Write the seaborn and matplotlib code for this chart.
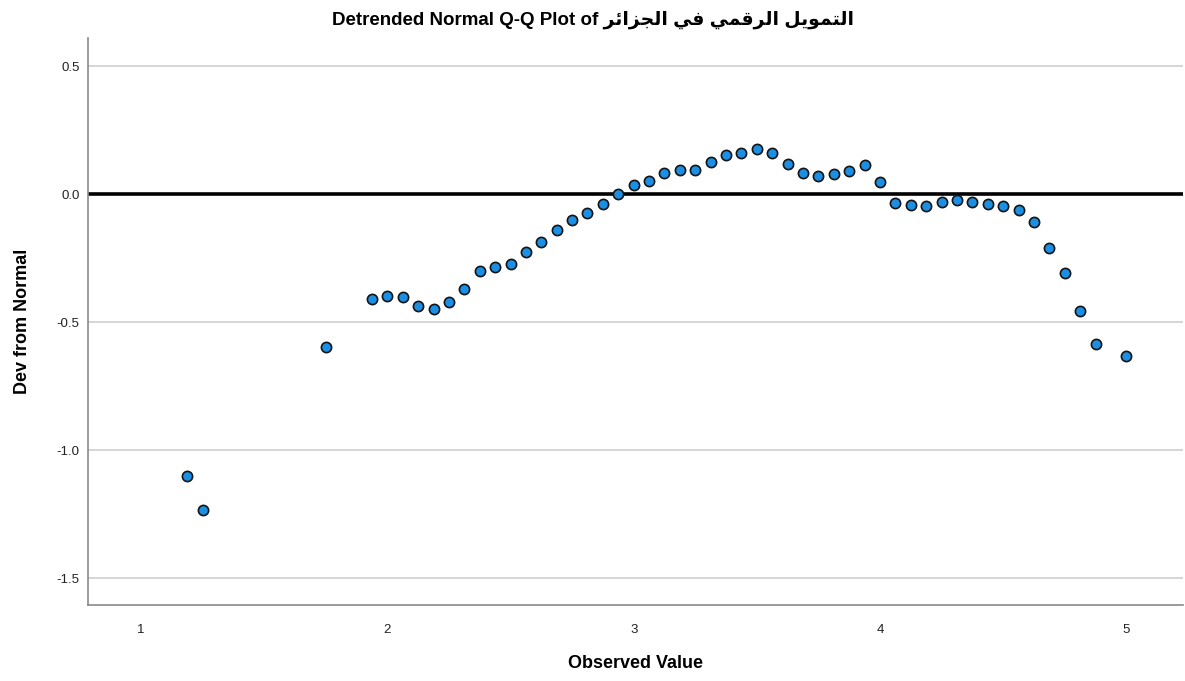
import matplotlib
matplotlib.use("Agg")
import matplotlib.pyplot as plt
import seaborn as sns
import pandas as pd

# Observed values and their deviation from the fitted normal line
observed = [1.1875, 1.25, 1.75,
            1.9375, 2.0, 2.0625, 2.125, 2.1875, 2.25, 2.3125, 2.375, 2.4375, 2.5,
            2.5625, 2.625, 2.6875, 2.75, 2.8125, 2.875, 2.9375, 3.0, 3.0625, 3.125,
            3.1875, 3.25, 3.3125, 3.375, 3.4375, 3.5, 3.5625, 3.625, 3.6875, 3.75,
            3.8125, 3.875, 3.9375, 4.0, 4.0625, 4.125, 4.1875, 4.25, 4.3125, 4.375,
            4.4375, 4.5, 4.5625, 4.625, 4.6875, 4.75, 4.8125, 4.875,
            5.0]
deviation = [-1.100, -1.234, -0.596,
             -0.410, -0.396, -0.402, -0.438, -0.447, -0.420, -0.369, -0.301, -0.285, -0.271,
             -0.225, -0.186, -0.142, -0.102, -0.073, -0.038, 0.002, 0.034, 0.052, 0.083,
             0.096, 0.095, 0.126, 0.151, 0.159, 0.175, 0.161, 0.116, 0.082, 0.071,
             0.077, 0.090, 0.114, 0.048, -0.035, -0.043, -0.047, -0.031, -0.022, -0.031,
             -0.037, -0.048, -0.063, -0.108, -0.211, -0.309, -0.456, -0.586,
             -0.632]
x_ticks = [1, 2, 3, 4, 5]
y_ticks = [0.5, 0.0, -0.5, -1.0, -1.5]
variable_name = "التمويل الرقمي في الجزائر"

# Contextual forms (isolated, final, initial, medial) for the letters used
ARABIC_FORMS = {
    "\u0627": ("\uFE8D", "\uFE8E"),
    "\u0631": ("\uFEAD", "\uFEAE"),
    "\u0632": ("\uFEAF", "\uFEB0"),
    "\u0648": ("\uFEED", "\uFEEE"),
    "\u062A": ("\uFE95", "\uFE96", "\uFE97", "\uFE98"),
    "\u062C": ("\uFE9D", "\uFE9E", "\uFE9F", "\uFEA0"),
    "\u0626": ("\uFE89", "\uFE8A", "\uFE8B", "\uFE8C"),
    "\u0641": ("\uFED1", "\uFED2", "\uFED3", "\uFED4"),
    "\u0642": ("\uFED5", "\uFED6", "\uFED7", "\uFED8"),
    "\u0644": ("\uFEDD", "\uFEDE", "\uFEDF", "\uFEE0"),
    "\u0645": ("\uFEE1", "\uFEE2", "\uFEE3", "\uFEE4"),
    "\u064A": ("\uFEF1", "\uFEF2", "\uFEF3", "\uFEF4"),
}


def shape_arabic(text):
    """Join letters into their contextual forms and lay them out right to left."""
    out = []
    for i, ch in enumerate(text):
        forms = ARABIC_FORMS.get(ch)
        if forms is None:
            out.append(ch)
            continue
        prev = text[i - 1] if i > 0 else ""
        nxt = text[i + 1] if i + 1 < len(text) else ""
        joins_prev = prev in ARABIC_FORMS and len(ARABIC_FORMS[prev]) == 4
        joins_next = len(forms) == 4 and nxt in ARABIC_FORMS
        if joins_prev and joins_next:
            out.append(forms[3])
        elif joins_prev:
            out.append(forms[1])
        elif joins_next:
            out.append(forms[2])
        else:
            out.append(forms[0])
    return "".join(reversed(out))


sns.set_theme(style="white")
plt.rcParams["font.family"] = ["Liberation Sans", "DejaVu Sans"]
plt.rcParams["axes.unicode_minus"] = False

df = pd.DataFrame({"Observed Value": observed, "Dev from Normal": deviation})

fig = plt.figure(figsize=(11.85, 6.81), dpi=100)
ax = fig.add_axes([0.0743, 0.1116, 0.924, 0.8326])

ax.set_xlim(0.785, 5.23)
ax.set_ylim(-1.605, 0.61)
ax.set_yticks(y_ticks)
ax.set_xticks(x_ticks)
ax.set_yticklabels([f"{v:.1f}" for v in y_ticks])
ax.set_xticklabels([str(v) for v in x_ticks])

for v in y_ticks:
    ax.axhline(v, color="#cfcfcf", lw=1.2, zorder=0)
ax.axhline(0.0, color="black", lw=2.6, zorder=1)

sns.scatterplot(data=df, x="Observed Value", y="Dev from Normal", ax=ax,
                s=54, color="#1a8fe3", edgecolor="#141414", linewidth=1.2,
                zorder=3, legend=False)

ax.set_xlabel("")
ax.set_ylabel("")
for side in ("top", "right"):
    ax.spines[side].set_visible(False)
for side in ("left", "bottom"):
    ax.spines[side].set_color("#8a8a8a")
    ax.spines[side].set_linewidth(1.2)

ax.tick_params(axis="both", length=0, labelsize=9.5, colors="#222222")
ax.tick_params(axis="y", pad=6)
ax.tick_params(axis="x", pad=14)

fig.text(0.5, 0.971, "Detrended Normal Q-Q Plot of " + shape_arabic(variable_name),
         ha="center", va="center", fontsize=13.5, fontweight="bold", color="black",
         family=["Liberation Sans", "DejaVu Sans"])
fig.text(0.536, 0.026, "Observed Value", ha="center", va="center",
         fontsize=13, fontweight="bold", color="black")
fig.text(0.0186, 0.528, "Dev from Normal", ha="center", va="center",
         rotation=90, fontsize=13, fontweight="bold", color="black")

fig.savefig("out.png", dpi=100)
